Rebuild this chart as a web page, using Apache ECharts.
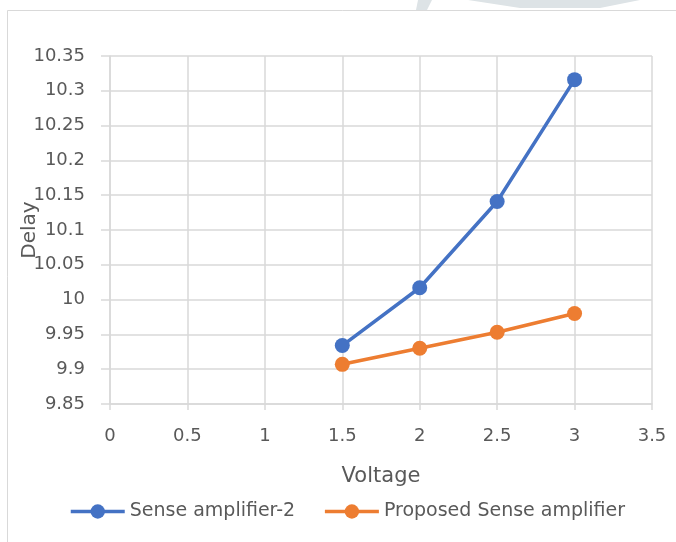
<!DOCTYPE html>
<html><head><meta charset="utf-8">
<script src="https://cdn.jsdelivr.net/npm/echarts@6/dist/echarts.min.js"></script>
<style>html,body{margin:0;padding:0;background:#fff}#c{width:676px;height:542px}</style>
</head><body><div id="c"></div>
<script>
const voltage = [1.5, 2, 2.5, 3];
const senseAmp2 = [9.934, 10.017, 10.141, 10.316];
const proposed = [9.907, 9.930, 9.953, 9.980];
const seriesNames = ['Sense amplifier-2', 'Proposed Sense amplifier'];
const xTitle = 'Voltage';
const yTitle = 'Delay';

const font = '"DejaVu Sans", sans-serif';
const grey = '#595959';
const chart = echarts.init(document.getElementById('c'));
chart.setOption({
  animation: false,
  backgroundColor: '#fff',
  graphic: [
    {type:'rect', shape:{x:7.5,y:10.5,width:700,height:560}, style:{fill:'none', stroke:'#d9d9d9', lineWidth:1}, z:-1},
    {type:'polygon', shape:{points:[[418,0],[432,0],[427,10],[416,10]]}, style:{fill:'#dde3e6'}},
    {type:'polygon', shape:{points:[[468,0],[640,0],[600,8],[520,8]]}, style:{fill:'#dde3e6'}}
  ],
  grid: {left:110, right:24, top:56, bottom:138},
  legend: {
    top: 497, left: 64, itemWidth: 54, itemHeight: 18, itemGap: 28,
    textStyle: {fontFamily: font, fontSize: 19, color: grey},
    lineStyle: {width: 3.5},
    data: seriesNames
  },
  xAxis: {
    type:'value', min:0, max:3.5, interval:0.5,
    name: xTitle, nameLocation:'middle', nameGap:62, nameMoveOverlap:false,
    nameTextStyle:{fontFamily:font, fontSize:21, color:grey},
    axisLine:{show:true, lineStyle:{color:'#d9d9d9', width:1.5}},
    axisTick:{show:true, length:6, lineStyle:{color:'#d9d9d9', width:1.5}},
    axisLabel:{fontFamily:font, fontSize:18, color:grey, margin:23},
    splitLine:{show:true, lineStyle:{color:'#d9d9d9', width:1.5}}
  },
  yAxis: {
    type:'value', min:9.85, max:10.35, interval:0.05,
    name: yTitle, nameLocation:'middle', nameGap:70, nameRotate:90, nameMoveOverlap:false,
    nameTextStyle:{fontFamily:font, fontSize:20, color:grey},
    axisLine:{show:true, lineStyle:{color:'#d9d9d9', width:1.5}},
    axisTick:{show:true, length:9, lineStyle:{color:'#d9d9d9', width:1.5}},
    axisLabel:{fontFamily:font, fontSize:18, color:grey, margin:25,
      formatter: v => String(parseFloat(v.toFixed(2)))},
    splitLine:{show:true, lineStyle:{color:'#d9d9d9', width:1.5}}
  },
  series: [
    {name: seriesNames[0], type:'line', data: voltage.map((x,i)=>[x, senseAmp2[i]]),
     symbol:'circle', symbolSize:15, color:'#4472c4', lineStyle:{width:3.5, color:'#4472c4'}, itemStyle:{color:'#4472c4'}},
    {name: seriesNames[1], type:'line', data: voltage.map((x,i)=>[x, proposed[i]]),
     symbol:'circle', symbolSize:15, color:'#ed7d31', lineStyle:{width:3.5, color:'#ed7d31'}, itemStyle:{color:'#ed7d31'}}
  ]
});
</script></body></html>
